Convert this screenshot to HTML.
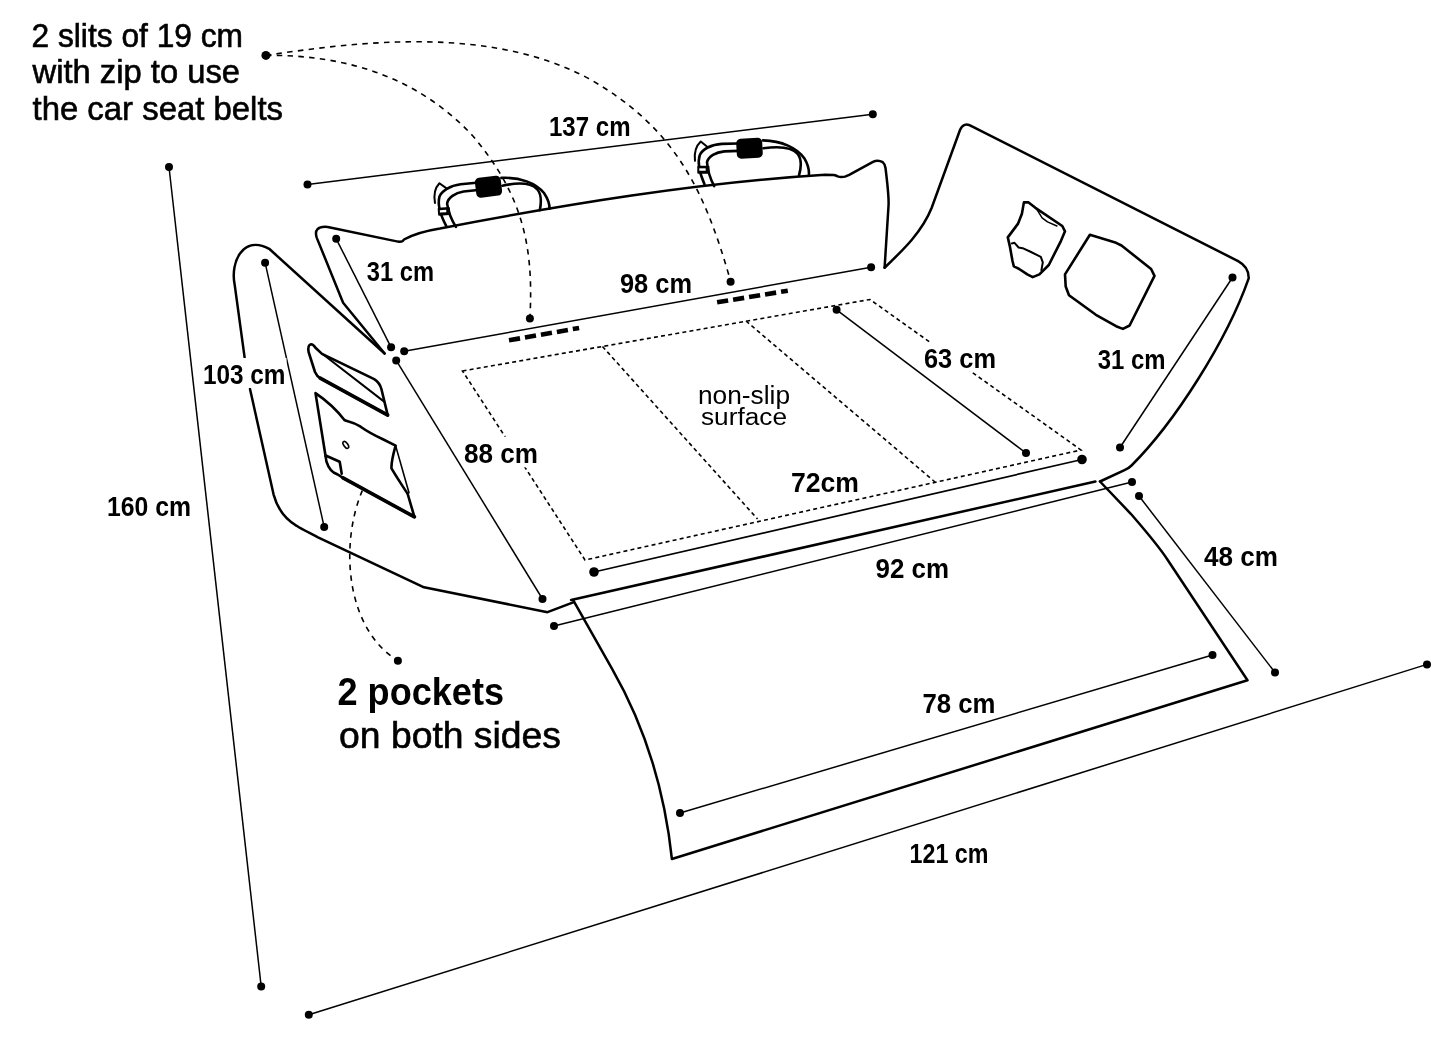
<!DOCTYPE html>
<html><head><meta charset="utf-8"><style>html,body{margin:0;padding:0;background:#fff;width:1445px;height:1040px;overflow:hidden}</style></head>
<body>
<svg width="1445" height="1040" viewBox="0 0 1445 1040" style="display:block">
<rect width="1445" height="1040" fill="#fff"/>
<g fill="#000">
<line x1="169" y1="167" x2="261.2" y2="986.6" stroke="#000" stroke-width="1.5"/>
<circle cx="169" cy="167" r="4"/>
<circle cx="261.2" cy="986.6" r="4"/>
<line x1="308.8" y1="1014.7" x2="1427" y2="664.4" stroke="#000" stroke-width="1.5"/>
<circle cx="308.8" cy="1014.7" r="4"/>
<circle cx="1427" cy="664.4" r="4"/>
<line x1="307.5" y1="184.5" x2="872.8" y2="114.3" stroke="#000" stroke-width="1.5"/>
<circle cx="307.5" cy="184.5" r="4"/>
<circle cx="872.8" cy="114.3" r="4"/>
<line x1="336.2" y1="238.8" x2="391.1" y2="347.3" stroke="#000" stroke-width="1.5"/>
<circle cx="336.2" cy="238.8" r="4"/>
<circle cx="391.1" cy="347.3" r="4"/>
<line x1="265.1" y1="262.7" x2="324.2" y2="527.1" stroke="#000" stroke-width="1.5"/>
<circle cx="265.1" cy="262.7" r="4"/>
<circle cx="324.2" cy="527.1" r="4"/>
<line x1="404.2" y1="351.2" x2="871.1" y2="267.2" stroke="#000" stroke-width="1.5"/>
<circle cx="404.2" cy="351.2" r="4"/>
<circle cx="871.1" cy="267.2" r="4"/>
<line x1="396.2" y1="360.4" x2="542.5" y2="599" stroke="#000" stroke-width="1.5"/>
<circle cx="396.2" cy="360.4" r="4"/>
<circle cx="542.5" cy="599" r="4"/>
<line x1="836.6" y1="309.8" x2="1026" y2="453" stroke="#000" stroke-width="1.5"/>
<circle cx="836.6" cy="309.8" r="4"/>
<circle cx="1026" cy="453" r="4"/>
<line x1="1232.5" y1="277.5" x2="1120" y2="447.5" stroke="#000" stroke-width="1.5"/>
<circle cx="1232.5" cy="277.5" r="4"/>
<circle cx="1120" cy="447.5" r="4"/>
<line x1="594" y1="572" x2="1082" y2="459.5" stroke="#000" stroke-width="1.7"/>
<circle cx="594" cy="572" r="4.8"/>
<circle cx="1082" cy="459.5" r="4.8"/>
<line x1="554" y1="626" x2="1132" y2="482" stroke="#000" stroke-width="1.5"/>
<circle cx="554" cy="626" r="4"/>
<circle cx="1132" cy="482" r="4"/>
<line x1="1139" y1="496" x2="1275" y2="672.5" stroke="#000" stroke-width="1.5"/>
<circle cx="1139" cy="496" r="4"/>
<circle cx="1275" cy="672.5" r="4"/>
<line x1="680" y1="813" x2="1212.5" y2="655" stroke="#000" stroke-width="1.5"/>
<circle cx="680" cy="813" r="4"/>
<circle cx="1212.5" cy="655" r="4"/>
</g>
<g fill="none" stroke="#000" stroke-width="1.6" stroke-dasharray="5.5 5.3">
<path d="M 265.9 55.4 C 369.7 39.8 492.5 27.3 588.8 78.6 C 675.0 127.5 704.6 189.5 730.7 281.6"/>
<path d="M 265.9 55.4 C 345.2 54.6 418.0 76.8 472.9 136.0 C 521.5 193.5 534.0 243.8 529.9 318.4"/>
<path d="M 362.3 490.6 C 340.1 543.1 344.7 627.8 397.9 660.8"/>
</g>
<g fill="none" stroke="#000" stroke-width="1.6" stroke-dasharray="4 3.2">
<path d="M 462.5 371 L 870 299.5 L 1081 450 L 585 560 Z"/>
<path d="M 602.5 346.5 L 757.5 519 M 746 321 L 935 482"/>
</g>
<g fill="#000">
<circle cx="265.9" cy="55.4" r="4.5"/>
<circle cx="730.6" cy="281.7" r="4"/>
<circle cx="529.9" cy="318.4" r="4"/>
<circle cx="397.9" cy="660.8" r="4"/>
</g>
<g stroke="#000" stroke-width="4.6" stroke-dasharray="11.2 5">
<line x1="509" y1="340.3" x2="579.1" y2="328"/>
<line x1="717.1" y1="302.3" x2="787.8" y2="290.7"/>
</g>
<g fill="none" stroke="#000" stroke-width="2.5" stroke-linejoin="round" stroke-linecap="round">
<path d="M 244.6 357.3 L 234.6 284.2 C 230.2 262.1 243.0 234.8 269.2 248.8 L 384.6 353.5"/>
<path d="M 250 389 L 273.6 494.6 C 277 507 285 519 296.6 525.8 C 303 530 310 533 318 537.4 L 424 587.3 L 547.5 612.2 L 573.2 602.4"/>
<path d="M 384.6 353.5 L 343.1 302.7 L 316.9 238.1 C 314 230 318 226 327.7 227 L 398 241.6 Q 402.5 242.4 404 239.5 C 414.9 233.1 427.6 230.4 440 228.4 C 567.2 204.2 695.6 182.9 825 174.8 L 833.7 175.1 Q 836 175.5 837.7 176.4 Q 841 177.5 845 176.6 L 849.2 174.8 L 873 161.8 Q 878 159.5 882.7 162.1 Q 885 164 885.5 168 C 887 180 889 200 888.5 206.2 L 884.6 267.7"/>
<path d="M 884.6 267.7 C 903 250 922 232 931.6 208 L 960 130 Q 963.5 121.5 972 126.3 L 1238.1 261.1 Q 1249 267 1248.7 278.3 C 1226.5 341.3 1174.4 422.7 1131.5 465.5 Q 1128.5 468.5 1124.5 470.2 L 1100 481.5"/>
<path d="M 571.1 600 L 1095.4 481.5"/>
<path d="M 1100 481.5 L 1130.8 513.8 C 1143 528 1158 545 1167.7 560 L 1247.5 680.3 L 671.9 859 C 664.9 792.6 645.3 726.8 612.1 668.8 L 573.6 600.8"/>
</g>
<g><g fill="none" stroke="#000" stroke-width="2.6" stroke-linecap="round" stroke-linejoin="round">
<path d="M 446.2 225.9 C 441 216 437 206 439.4 196.8 C 441.5 191 450 185.5 460.7 184.2 L 476.2 182.8"/>
<path d="M 455.9 226.9 C 451 219 448 210 447.1 203.6 C 448 197.5 455 193 463.6 191.5 L 478.1 190"/>
<path d="M 501.4 177.9 C 520 177 536 183 544 193 C 548 199 549.6 203 549.6 208.8"/>
<path d="M 502.4 185.7 C 515 183 530 182 537 189 C 541.5 194 541.5 202 539.8 210.3"/>
<path d="M 435 203 C 433.5 195 435 188 439.4 183.3 L 446.2 188.1" stroke-width="2"/>
</g>
<rect x="475.5" y="176.7" width="26" height="20" rx="4.5" fill="#000" transform="rotate(-7 488.5 186.7)"/>
<rect x="437.9" y="207.3" width="12.2" height="8" rx="1" fill="#000" transform="rotate(-4 444 211.3)"/>
<rect x="439.9" y="209.9" width="6.4" height="2.4" fill="#fff" transform="rotate(-4 444 211.3)"/>
</g>
<g transform="translate(261,-38.4) rotate(4 488.5 186.7)"><g fill="none" stroke="#000" stroke-width="2.6" stroke-linecap="round" stroke-linejoin="round">
<path d="M 446.2 225.9 C 441 216 437 206 439.4 196.8 C 441.5 191 450 185.5 460.7 184.2 L 476.2 182.8"/>
<path d="M 455.9 226.9 C 451 219 448 210 447.1 203.6 C 448 197.5 455 193 463.6 191.5 L 478.1 190"/>
<path d="M 501.4 177.9 C 520 177 536 183 544 193 C 548 199 549.6 203 549.6 208.8"/>
<path d="M 502.4 185.7 C 515 183 530 182 537 189 C 541.5 194 541.5 202 539.8 210.3"/>
<path d="M 435 203 C 433.5 195 435 188 439.4 183.3 L 446.2 188.1" stroke-width="2"/>
</g>
<rect x="475.5" y="176.7" width="26" height="20" rx="4.5" fill="#000" transform="rotate(-7 488.5 186.7)"/>
<rect x="437.9" y="207.3" width="12.2" height="8" rx="1" fill="#000" transform="rotate(-4 444 211.3)"/>
<rect x="439.9" y="209.9" width="6.4" height="2.4" fill="#fff" transform="rotate(-4 444 211.3)"/>
</g>
<g fill="none" stroke="#000" stroke-width="2.6" stroke-linejoin="round" stroke-linecap="round">
<path d="M 387.7 415.1 L 320.2 378.2 Q 317 376.5 315 372 L 308.6 352 Q 307.5 345 311 344.2 Q 313 344 315.5 347.8 L 322 353.9 L 374.2 379.1 Q 379.6 382.5 381.4 389 Z"/>
<path d="M 320.2 378.2 L 387.7 415.1" stroke-width="3.6"/>
<path d="M 322.9 354.3 L 384.1 401.6" stroke-width="2"/>
<path d="M 325.6 456.3 L 315.5 393.1 Q 333 405 344.4 420 C 348 422 352 421 360.6 426.7 C 368 432 376 436 383.4 439.5 L 395.6 445.6 C 393 455 391 462 391.5 468.4 C 397 478 404 488 407.7 494 L 414.4 516.9 L 343 477.9"/>
<path d="M 414.4 516.9 L 343 477.9" stroke-width="3.6"/>
<path d="M 395.6 445.6 L 409 492.7" stroke-width="1.6"/>
<path d="M 325.6 456.3 C 326 464 330 470 333.6 472.5 L 337.7 474.5 L 343 477.9 M 326.2 455.7 L 339.7 461.7 L 340.4 465.8 L 341.7 473.8" stroke-width="2.6"/>
<ellipse cx="345.8" cy="444.9" rx="2" ry="4" transform="rotate(-35 345.8 444.9)" stroke-width="1.6"/>
<path d="M 1023.9 202.4 L 1028.6 202.4 L 1035.4 207.8 L 1062.3 226 L 1065 231.3 L 1061 240.8 L 1048.8 265 L 1039.4 274.4 L 1032.7 277.1 L 1027.3 274.4 L 1019.2 269 L 1013.8 266.3 L 1012.5 261 L 1009.8 246.1 L 1007.8 237.4 L 1017.9 223.9 L 1021.9 213.8 Z"/>
<path d="M 1036.7 209.1 L 1042.1 217.9 L 1047.5 221.9 L 1056.9 226" stroke-width="1.5"/>
<path d="M 1011.8 243.5 L 1014.5 242.8 L 1018.6 247.5 L 1022.6 248.2 L 1030 251.5 L 1040.8 256.9 L 1042.8 262.3 L 1041.4 270.4" stroke-width="2"/>
<path d="M 1089.9 234.7 L 1116.1 242.8 L 1121.5 245.5 L 1151.1 269 L 1154.5 275.8 L 1129.6 325.5 L 1122.9 328.9 L 1116.1 326.2 L 1095.9 314.8 L 1069 295.3 L 1065.7 286.5 L 1065 274.4 Z"/>
</g>
<rect x="337.1" y="670.5" width="167.7" height="38.4" fill="#fff"/>
<rect x="548.4" y="109.1" width="82.9" height="30.7" fill="#fff"/>
<rect x="365.8" y="254.1" width="69.1" height="30.6" fill="#fff"/>
<rect x="619.0" y="267.0" width="74.0" height="29.5" fill="#fff"/>
<rect x="202.0" y="358.0" width="84.5" height="29.8" fill="#fff"/>
<rect x="463.2" y="436.6" width="75.6" height="30.8" fill="#fff"/>
<rect x="923.0" y="343.0" width="74.0" height="28.5" fill="#fff"/>
<rect x="1096.8" y="343.0" width="69.8" height="29.8" fill="#fff"/>
<rect x="790.4" y="466.3" width="68.8" height="30.1" fill="#fff"/>
<rect x="874.3" y="551.8" width="75.1" height="30.2" fill="#fff"/>
<rect x="1202.0" y="539.0" width="76.0" height="31.0" fill="#fff"/>
<rect x="106.2" y="488.7" width="85.4" height="30.4" fill="#fff"/>
<rect x="922.1" y="686.7" width="74.4" height="30.7" fill="#fff"/>
<rect x="909.1" y="836.2" width="80.2" height="30.8" fill="#fff"/>
<g font-family="Liberation Sans, sans-serif" fill="#000" style="will-change:transform">
<text x="31.50" y="47.00" font-size="32.60" font-weight="normal" textLength="211.50" lengthAdjust="spacingAndGlyphs" stroke="#000" stroke-width="0.6">2 slits of 19 cm</text>
<text x="32.50" y="83.10" font-size="32.60" font-weight="normal" textLength="207.50" lengthAdjust="spacingAndGlyphs" stroke="#000" stroke-width="0.6">with zip to use</text>
<text x="32.50" y="120.00" font-size="32.60" font-weight="normal" textLength="250.50" lengthAdjust="spacingAndGlyphs" stroke="#000" stroke-width="0.6">the car seat belts</text>
<text x="337.50" y="704.90" font-size="38.08" font-weight="bold" textLength="166.50" lengthAdjust="spacingAndGlyphs">2 pockets</text>
<text x="339.00" y="748.00" font-size="36.18" font-weight="normal" textLength="222.00" lengthAdjust="spacingAndGlyphs" stroke="#000" stroke-width="0.6">on both sides</text>
<text x="549.00" y="136.00" font-size="27.60" font-weight="bold" textLength="81.50" lengthAdjust="spacingAndGlyphs">137 cm</text>
<text x="366.75" y="280.50" font-size="27.60" font-weight="bold" textLength="67.25" lengthAdjust="spacingAndGlyphs">31 cm</text>
<text x="620.00" y="292.50" font-size="27.60" font-weight="bold" textLength="72.00" lengthAdjust="spacingAndGlyphs">98 cm</text>
<text x="203.00" y="383.75" font-size="27.60" font-weight="bold" textLength="82.50" lengthAdjust="spacingAndGlyphs">103 cm</text>
<text x="464.00" y="463.00" font-size="27.60" font-weight="bold" textLength="74.00" lengthAdjust="spacingAndGlyphs">88 cm</text>
<text x="924.00" y="367.50" font-size="27.60" font-weight="bold" textLength="72.00" lengthAdjust="spacingAndGlyphs">63 cm</text>
<text x="1097.75" y="368.75" font-size="27.60" font-weight="bold" textLength="67.75" lengthAdjust="spacingAndGlyphs">31 cm</text>
<text x="791.00" y="492.00" font-size="27.60" font-weight="bold" textLength="68.00" lengthAdjust="spacingAndGlyphs">72cm</text>
<text x="875.50" y="578.00" font-size="27.60" font-weight="bold" textLength="73.50" lengthAdjust="spacingAndGlyphs">92 cm</text>
<text x="1204.00" y="566.00" font-size="27.60" font-weight="bold" textLength="74.00" lengthAdjust="spacingAndGlyphs">48 cm</text>
<text x="107.00" y="515.50" font-size="27.60" font-weight="bold" textLength="84.00" lengthAdjust="spacingAndGlyphs">160 cm</text>
<text x="922.50" y="713.00" font-size="27.60" font-weight="bold" textLength="73.00" lengthAdjust="spacingAndGlyphs">78 cm</text>
<text x="909.50" y="863.00" font-size="27.60" font-weight="bold" textLength="79.00" lengthAdjust="spacingAndGlyphs">121 cm</text>
<text x="698.00" y="403.80" font-size="24.92" font-weight="normal" textLength="92.00" lengthAdjust="spacingAndGlyphs">non-slip</text>
<text x="701.00" y="425.00" font-size="24.38" font-weight="normal" textLength="86.00" lengthAdjust="spacingAndGlyphs">surface</text>
</g>
</svg>
</body></html>
